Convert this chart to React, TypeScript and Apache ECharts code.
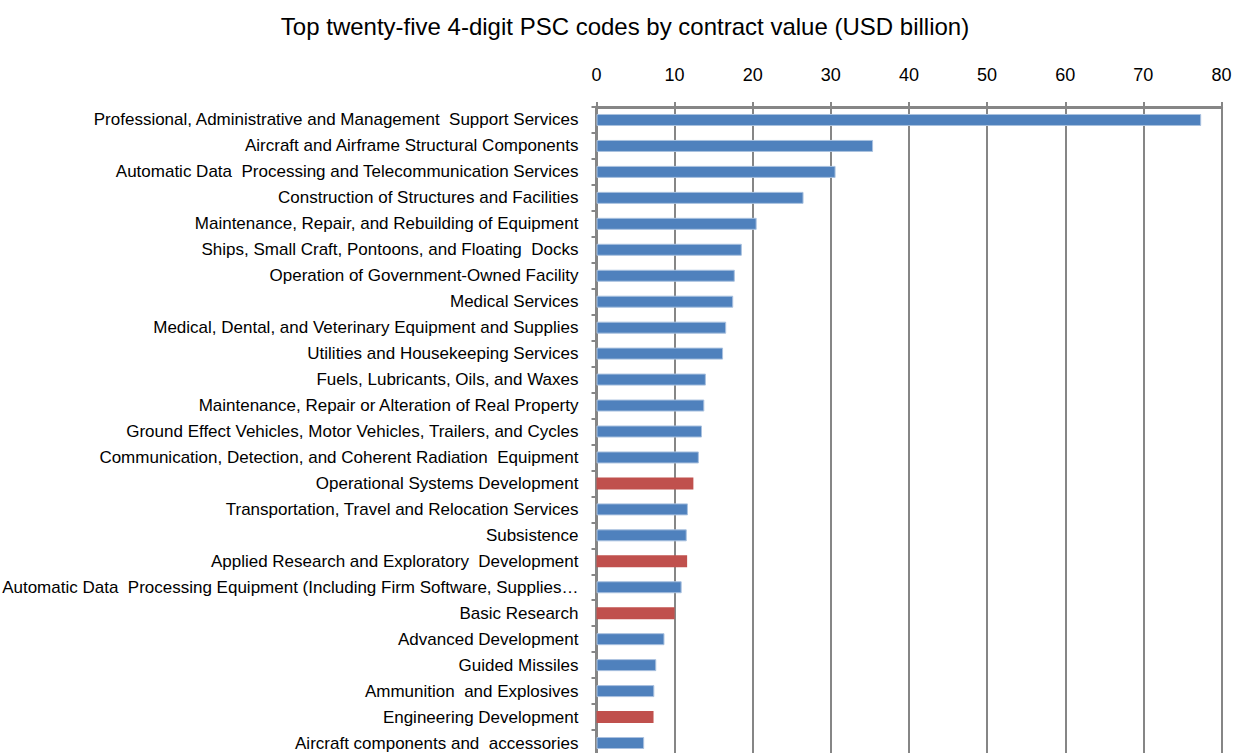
import React, { useEffect, useRef } from "react";
import * as echarts from "echarts";

const title = "Top twenty-five 4-digit PSC codes by contract value (USD billion)";

const categories = [
  "Professional, Administrative and Management  Support Services",
  "Aircraft and Airframe Structural Components",
  "Automatic Data  Processing and Telecommunication Services",
  "Construction of Structures and Facilities",
  "Maintenance, Repair, and Rebuilding of Equipment",
  "Ships, Small Craft, Pontoons, and Floating  Docks",
  "Operation of Government-Owned Facility",
  "Medical Services",
  "Medical, Dental, and Veterinary Equipment and Supplies",
  "Utilities and Housekeeping Services",
  "Fuels, Lubricants, Oils, and Waxes",
  "Maintenance, Repair or Alteration of Real Property",
  "Ground Effect Vehicles, Motor Vehicles, Trailers, and Cycles",
  "Communication, Detection, and Coherent Radiation  Equipment",
  "Operational Systems Development",
  "Transportation, Travel and Relocation Services",
  "Subsistence",
  "Applied Research and Exploratory  Development",
  "Automatic Data  Processing Equipment (Including Firm Software, Supplies…",
  "Basic Research",
  "Advanced Development",
  "Guided Missiles",
  "Ammunition  and Explosives",
  "Engineering Development",
  "Aircraft components and  accessories",
];

const values = [
  77.4, 35.4, 30.6, 26.5, 20.5, 18.6, 17.7, 17.5, 16.6, 16.2, 14.0, 13.8, 13.5,
  13.1, 12.4, 11.7, 11.55, 11.6, 10.9, 10.0, 8.7, 7.65, 7.4, 7.3, 6.1,
];

// categories drawn in red (research & development codes)
const redCategories = [
  "Operational Systems Development",
  "Applied Research and Exploratory  Development",
  "Basic Research",
  "Engineering Development",
];

const xTicks = { min: 0, max: 80, interval: 10 };

const BLUE = "#4F81BD";
const RED = "#C0504D";
const FONT = "'Liberation Sans Narrow', 'Arial Narrow', 'Liberation Sans', sans-serif";

export default function App() {
  const ref = useRef<HTMLDivElement>(null);
  useEffect(() => {
    document.body.style.margin = "0";
    const chart = echarts.init(ref.current!, undefined, { renderer: "svg" });
    chart.setOption({
      animation: false,
      backgroundColor: "#ffffff",
      title: {
        text: title,
        left: 620,
        top: 9,
        textAlign: "center",
        textStyle: {
          fontFamily: "'Liberation Sans', Arial, sans-serif",
          fontSize: 24,
          fontWeight: "normal",
          color: "#000",
        },
      },
      grid: {
        left: 596.5,
        right: 11.5,
        top: 107,
        height: 649,
        containLabel: false,
        outerBoundsMode: "none",
      },
      xAxis: {
        type: "value",
        position: "top",
        min: xTicks.min,
        max: xTicks.max,
        interval: xTicks.interval,
        axisLine: { show: true, lineStyle: { color: "#868686", width: 3 } },
        axisTick: { show: true, length: 5, lineStyle: { color: "#868686", width: 2 } },
        splitLine: { show: true, lineStyle: { color: "#868686", width: 2 } },
        axisLabel: {
          margin: 23,
          fontFamily: FONT,
          fontSize: 18,
          color: "#000",
        },
      },
      yAxis: {
        type: "category",
        inverse: true,
        data: categories,
        axisLine: { show: true, lineStyle: { color: "#868686", width: 3 } },
        axisTick: { show: true, length: 5, lineStyle: { color: "#868686", width: 2 } },
        axisLabel: {
          margin: 18,
          fontFamily: FONT,
          fontSize: 17,
          color: "#000",
        },
      },
      series: [
        {
          type: "bar",
          barWidth: 12,
          data: values.map((v, i) => ({
            value: v,
            itemStyle: redCategories.includes(categories[i])
              ? { color: RED }
              : { color: BLUE, borderColor: "#a9c1df", borderWidth: 1 },
          })),
        },
      ],
    });
    return () => chart.dispose();
  }, []);
  return <div ref={ref} style={{ width: 1233, height: 753 }} />;
}
